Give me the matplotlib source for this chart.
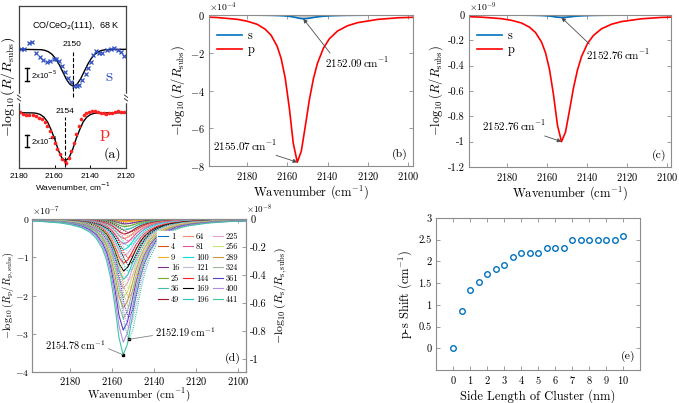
import numpy as np
import matplotlib
matplotlib.use('Agg')
import matplotlib.pyplot as plt

plt.rcParams['font.family'] = 'serif'
plt.rcParams['font.serif'] = ['cmr10']
plt.rcParams['mathtext.fontset'] = 'cm'
plt.rcParams['axes.unicode_minus'] = False
plt.rcParams['axes.formatter.use_mathtext'] = True

# ---------------- data ----------------
# (a) experimental spectra (s in 1e-5, p in 1e-4)
a_s_wn = [2179.1, 2177.2, 2174.2, 2172.6, 2170.4, 2168.5, 2166.6, 2164.3, 2162.5, 2160.6,
          2159.1, 2157.5, 2155.7, 2154.0, 2152.3, 2150.8, 2149.2, 2147.7, 2146.2, 2144.5,
          2142.6, 2141.1, 2139.8, 2138.3, 2136.8, 2135.0, 2133.2, 2130.4, 2128.5, 2126.6,
          2124.7, 2122.8, 2120.9]
a_s_val = [0.1, 0.1, 1.0, 1.1, -0.6, -1.1, -1.6, -1.9, -1.8, -1.5,
           -1.4, -1.8, -2.6, -3.4, -4.3, -5.0, -5.5, -5.6, -5.4, -4.7,
           -3.8, -2.9, -1.9, -0.9, -0.2, -0.5, -0.6, -0.1, 0.1, 0.2,
           -0.1, -0.4, -1.0]
a_s_fit_wn = [2180, 2167.5, 2165.5, 2163.5, 2161.5, 2159.5, 2157.5, 2155.5, 2153.5, 2151.5,
              2149.5, 2147.5, 2145.5, 2143.5, 2141.5, 2139.5, 2137.5, 2135.5, 2133.5, 2131.5, 2120]
a_s_fit_val = [0, -0.06, -0.16, -0.37, -0.76, -1.4, -2.3, -3.4, -4.5, -5.3,
               -5.6, -5.3, -4.5, -3.4, -2.3, -1.4, -0.76, -0.37, -0.16, -0.06, 0]
a_p_wn = [2179.5, 2177.8, 2176.0, 2174.2, 2172.4, 2170.6, 2168.8, 2167.2, 2165.6, 2164.2,
          2162.8, 2161.4, 2160.0, 2158.6, 2157.2, 2155.8, 2154.4, 2153.6, 2152.2, 2150.8,
          2149.4, 2148.0, 2146.6, 2145.2, 2143.8, 2142.2, 2140.6, 2139.0, 2137.4, 2135.8,
          2134.2, 2132.6, 2131.0, 2129.4, 2127.8, 2126.2, 2124.6, 2123.0, 2121.4]
a_p_val = [0.1, -0.2, -0.4, -0.3, -0.4, -0.5, -0.8, -1.1, -1.6, -2.2,
           -3.0, -4.0, -5.0, -6.0, -6.8, -7.6, -8.0, -8.2, -7.4, -6.3,
           -5.0, -3.5, -2.1, -1.0, -0.4, -0.1, 0.1, 0.2, 0.2, 0.1,
           0.0, -0.1, -0.2, -0.1, 0.0, 0.1, 0.2, 0.1, 0.1]
a_p_fit_wn = [2180, 2172, 2170, 2168, 2166, 2164, 2162, 2160, 2158, 2156, 2154, 2152,
              2150, 2148, 2146, 2144, 2142, 2140, 2138, 2136, 2120]
a_p_fit_val = [0, -0.04, -0.11, -0.31, -0.73, -1.5, -2.8, -4.3, -6.1, -7.4, -7.9, -7.4,
               -6.1, -4.3, -2.8, -1.5, -0.73, -0.31, -0.11, -0.04, 0]

# shared shape of the simulated band: offset from peak (cm-1) and fraction of depth
prof_off = [-70, -50, -40, -30, -25, -20, -16, -13, -10, -8, -6, -4, -2, 0,
            2, 4, 6, 8, 10, 13, 16, 20, 25, 30, 40, 50, 60, 80]
prof_frac = [0.010, 0.019, 0.030, 0.052, 0.073, 0.109, 0.161, 0.225, 0.329, 0.434, 0.576, 0.754, 0.925, 1.0,
             0.871, 0.628, 0.429, 0.297, 0.213, 0.138, 0.096, 0.063, 0.042, 0.029, 0.017, 0.011, 0.0075, 0.004]

# (b) cluster model, x1e-4
b_p_center, b_p_depth = 2155.07, 7.8
b_s_center, b_s_depth = 2152.09, 0.2
# (c) single molecule, x1e-9
c_p_center, c_p_depth = 2152.76, 1.0
c_s_center, c_s_depth = 2152.76, 0.02

# (d) number of molecules in cluster
d_sizes = [1, 4, 9, 16, 25, 36, 49, 64, 81, 100, 121, 144, 169, 196, 225, 256, 289, 324, 361, 400, 441]
d_p_center = [2152.76, 2153.43, 2153.81, 2153.95, 2154.10, 2154.18, 2154.26, 2154.41, 2154.48, 2154.48,
              2154.48, 2154.55, 2154.55, 2154.55, 2154.70, 2154.70, 2154.70, 2154.70, 2154.70, 2154.70, 2154.78]
d_s_center = [2152.76, 2152.57, 2152.47, 2152.42, 2152.38, 2152.36, 2152.34, 2152.30, 2152.28, 2152.28,
              2152.28, 2152.25, 2152.25, 2152.25, 2152.21, 2152.21, 2152.21, 2152.21, 2152.21, 2152.21, 2152.19]
d_p_depth = [0.008, 0.032, 0.072, 0.129, 0.201, 0.29, 0.394, 0.515, 0.652, 0.805, 0.974,
             1.159, 1.36, 1.578, 1.811, 2.06, 2.326, 2.608, 2.906, 3.22, 3.55]   # x1e-7
d_s_depth = [0.002, 0.008, 0.018, 0.031, 0.049, 0.070, 0.096, 0.125, 0.158, 0.195, 0.236,
             0.281, 0.330, 0.382, 0.439, 0.499, 0.564, 0.632, 0.704, 0.780, 0.860]  # x1e-8
d_colors = ['#0072BD', '#D95319', '#EDB120', '#7E2F8E', '#77AC30', '#3DBFB0', '#A2142F',
            '#F28C6A', '#E0559F', '#00E0E0', '#C8B8D8', '#FF2020', '#000000', '#20C8C8',
            '#E8A0D8', '#C8E678', '#C8963C', '#A0B4A0', '#5A3CC8', '#B48CE6', '#3CC8A0']

# (e) p-s shift vs cluster side length
e_side = [0, 0.5, 1, 1.5, 2, 2.5, 3, 3.5, 4, 4.5, 5, 5.5, 6, 6.5, 7, 7.5, 8, 8.5, 9, 9.5, 10]
e_shift = [0, 0.86, 1.34, 1.53, 1.72, 1.82, 1.92, 2.11, 2.2, 2.2, 2.2, 2.3, 2.3, 2.3,
           2.49, 2.49, 2.49, 2.49, 2.49, 2.49, 2.59]

BLUE = '#0072BD'
RED = '#FF0000'
SPINE = '#8c8c8c'

W, H = 679, 403
fig = plt.figure(figsize=(W / 100, H / 100), dpi=100)


def ax_px(l, t, r, b):
    return fig.add_axes([l / W, 1 - b / H, (r - l) / W, (b - t) / H])


def band(center, depth):
    x = center + np.array(prof_off, dtype=float)
    y = -depth * np.array(prof_frac)
    return x, y


def style_matlab(ax, right=True):
    for s in ax.spines.values():
        s.set_color(SPINE)
        s.set_linewidth(0.8)
    ax.tick_params(direction='in', length=3, width=0.6, color=SPINE, labelsize=7.5,
                   top=True, right=right, pad=3)


def fmt_labels(vals):
    return [('%g' % v) for v in vals]


# ---------------- (a) ----------------
axa = ax_px(19, 6, 126, 168)
axa.set_xlim(2180, 2120)
axa.set_ylim(0, 162)
s_base, s_scale = 118.7, 6.6
p_base, p_scale = 55.3, 6.1
sf = 'Liberation Sans'
axa.plot(a_s_fit_wn, s_base + s_scale * np.array(a_s_fit_val), color='k', lw=1.0)
axa.plot(a_s_wn, s_base + s_scale * np.array(a_s_val), 'x', color='#3050C0', ms=3.5, mew=0.9)
axa.plot(a_p_fit_wn, p_base + p_scale * np.array(a_p_fit_val), color='k', lw=1.0)
axa.plot(a_p_wn, p_base + p_scale * np.array(a_p_val), 'o', color='#FF2020', ms=2.6, mew=0)
axa.plot([2150, 2150], [71, 116], ls='--', color='k', lw=0.8)
axa.plot([2154, 2154], [1, 51], ls='--', color='k', lw=0.8)
axa.text(2150, 123, '2150', family=sf, fontsize=6, ha='center', va='center')
axa.text(2154, 56, '2154', family=sf, fontsize=6, ha='center', va='center')
axa.text(2180 - 57 / 1.783, 142, r'CO/CeO$_2$(111),  68 K', family=sf, fontsize=6.5,
         ha='center', va='center', math_fontfamily='dejavusans')
# scale bars
for yc, lab in [(93, r'2x10$^{-5}$'), (27, r'2x10$^{-4}$')]:
    half = 6.5 if yc > 50 else 6.0
    axa.plot([2175.5, 2175.5], [yc - half, yc + half], color='k', lw=1.0)
    axa.plot([2176.5, 2174.5], [yc - half, yc - half], color='k', lw=1.0)
    axa.plot([2176.5, 2174.5], [yc + half, yc + half], color='k', lw=1.0)
    axa.text(2173.5, yc, lab, family=sf, fontsize=5.5, ha='left', va='center',
             math_fontfamily='dejavusans')
axa.text(2129.5, 92, 's', color='#3050C0', fontsize=13, ha='center', va='center')
axa.text(2131.8, 35, 'p', color='#FF2020', fontsize=13, ha='center', va='center')
axa.text(2127.5, 14, '(a)', fontsize=10, ha='center', va='center')
# axis-break marks on both vertical spines
for xs in (2180, 2120):
    axa.plot([xs, xs], [67, 73], color='white', lw=2.5, clip_on=False, zorder=5)
    for dy in (-1.8, 1.8):
        axa.plot([xs - 0.9, xs + 0.9], [70 + dy - 1.2, 70 + dy + 1.2], color='#404040',
                 lw=0.7, clip_on=False, zorder=6)
axa.set_xticks([2180, 2160, 2140, 2120])
axa.set_yticks([])
for s in axa.spines.values():
    s.set_color('#404040')
    s.set_linewidth(0.9)
axa.tick_params(direction='in', length=2.5, width=0.7, labelsize=6, pad=2)
for lab in axa.get_xticklabels():
    lab.set_family(sf)
axa.set_xlabel(r'Wavenumber, cm$^{-1}$', family=sf, fontsize=6, labelpad=1,
               math_fontfamily='dejavusans')
axa.set_ylabel(r'$-\log_{10}(R/R_{\rm subs})$', fontsize=10, labelpad=0)
axa.yaxis.set_label_coords(-0.02, 0.5)

# ---------------- (b) ----------------
axb = ax_px(209, 15, 413, 166)
xb, yb = band(b_s_center, b_s_depth)
axb.fill_between(xb, yb, 0, color='#c8c8c8', lw=0)
axb.plot(xb, yb, color=BLUE, lw=1.2, label='s')
xb2, yb2 = band(b_p_center, b_p_depth)
axb.plot(xb2, yb2, color=RED, lw=1.2, label='p')
axb.set_xlim(2199, 2097.5)
axb.set_ylim(-8, 0)
axb.set_xticks([2180, 2160, 2140, 2120, 2100])
axb.set_yticks([0, -2, -4, -6, -8])
style_matlab(axb)
axb.text(0.0, 1.005, r'$\times10^{-4}$', transform=axb.transAxes, fontsize=7, va='bottom')
axb.legend(loc='upper left', bbox_to_anchor=(0.0, 0.95), frameon=False, fontsize=9,
           handlelength=2.0, handletextpad=0.5, labelspacing=0.15, borderaxespad=0.2)
axb.annotate(r'$2152.09\,\mathrm{cm}^{-1}$', xy=(b_s_center, -b_s_depth), xytext=(2141.5, -2.55),
             fontsize=8, ha='left', va='center',
             arrowprops=dict(arrowstyle='-|>', color='0.3', lw=0.6, mutation_scale=6,
                             relpos=(0.12, 1.0), shrinkA=0, shrinkB=0))
axb.annotate(r'$2155.07\,\mathrm{cm}^{-1}$', xy=(b_p_center, -b_p_depth), xytext=(2197, -6.9),
             fontsize=8, ha='left', va='center',
             arrowprops=dict(arrowstyle='-|>', color='0.3', lw=0.6, mutation_scale=6,
                             relpos=(0.85, 0.0), shrinkA=0, shrinkB=0))
axb.text(0.975, 0.04, '(b)', transform=axb.transAxes, fontsize=8.5, ha='right', va='bottom')
axb.set_xlabel(r'Wavenumber (cm$^{-1}$)', fontsize=9, labelpad=1)
axb.set_ylabel(r'$-\log_{10}(R/R_{\rm subs})$', fontsize=9, labelpad=2)

# ---------------- (c) ----------------
axc = ax_px(469, 15, 671, 167)
xc, yc = band(c_s_center, c_s_depth)
axc.fill_between(xc, yc, 0, color='#c8c8c8', lw=0)
axc.plot(xc, yc, color=BLUE, lw=1.2, label='s')
xc2, yc2 = band(c_p_center, c_p_depth)
axc.plot(xc2, yc2, color=RED, lw=1.2, label='p')
axc.set_xlim(2199, 2098)
axc.set_ylim(-1.2, 0)
axc.set_xticks([2180, 2160, 2140, 2120, 2100])
c_yt = [0, -0.2, -0.4, -0.6, -0.8, -1, -1.2]
axc.set_yticks(c_yt)
axc.set_yticklabels(fmt_labels(c_yt))
style_matlab(axc)
axc.text(0.0, 1.005, r'$\times10^{-9}$', transform=axc.transAxes, fontsize=7, va='bottom')
axc.legend(loc='upper left', bbox_to_anchor=(0.0, 0.95), frameon=False, fontsize=9,
           handlelength=2.0, handletextpad=0.5, labelspacing=0.15, borderaxespad=0.2)
axc.annotate(r'$2152.76\,\mathrm{cm}^{-1}$', xy=(c_s_center, -c_s_depth), xytext=(2140.5, -0.31),
             fontsize=8, ha='left', va='center',
             arrowprops=dict(arrowstyle='-|>', color='0.3', lw=0.6, mutation_scale=6,
                             relpos=(0.1, 1.0), shrinkA=0, shrinkB=0))
axc.annotate(r'$2152.76\,\mathrm{cm}^{-1}$', xy=(c_p_center, -c_p_depth), xytext=(2192.5, -0.875),
             fontsize=8, ha='left', va='center',
             arrowprops=dict(arrowstyle='-|>', color='0.3', lw=0.6, mutation_scale=6,
                             relpos=(0.85, 0.0), shrinkA=0, shrinkB=0))
axc.text(0.975, 0.04, '(c)', transform=axc.transAxes, fontsize=8.5, ha='right', va='bottom')
axc.set_xlabel(r'Wavenumber (cm$^{-1}$)', fontsize=9, labelpad=1)
axc.set_ylabel(r'$-\log_{10}(R/R_{\rm subs})$', fontsize=9, labelpad=2)

# ---------------- (d) ----------------
axd = ax_px(32, 219, 246, 372)
axd2 = axd.twinx()
handles = []
for i, n in enumerate(d_sizes):
    x, y = band(d_p_center[i], d_p_depth[i])
    h, = axd.plot(x, y, color=d_colors[i], lw=0.8)
    handles.append(h)
    x2, y2 = band(d_s_center[i], d_s_depth[i])
    axd2.plot(x2, y2, color=d_colors[i], lw=0.8, ls=(0, (1, 1)))
axd.set_xlim(2198.2, 2096.2)
axd.set_ylim(-4, 0)
axd2.set_ylim(-1.093, 0)
axd.set_xticks([2180, 2160, 2140, 2120, 2100])
axd.set_yticks([0, -1, -2, -3, -4])
d_yt = [0, -0.2, -0.4, -0.6, -0.8, -1]
axd2.set_yticks(d_yt)
axd2.set_yticklabels(fmt_labels(d_yt))
style_matlab(axd, right=False)
style_matlab(axd2)
axd.tick_params(right=False)
axd.tick_params(axis='y', pad=2, labelsize=7)
axd.tick_params(axis='x', pad=2)
axd2.tick_params(left=False, labelleft=False, top=False)
axd.text(0.0, 1.005, r'$\times10^{-7}$', transform=axd.transAxes, fontsize=7, va='bottom')
axd2.text(1.0, 1.02, r'$\times10^{-8}$', transform=axd2.transAxes, fontsize=6.5, va='bottom', ha='left')
axd2.legend(handles, [str(n) for n in d_sizes], ncol=3, loc='upper right',
            bbox_to_anchor=(0.99, 0.95), fontsize=6, frameon=True, facecolor='white',
            edgecolor='white', framealpha=1, handlelength=1.2, handletextpad=0.3,
            columnspacing=0.5, labelspacing=0.25, borderpad=0.2)
axd.annotate(r'$2154.78\,\mathrm{cm}^{-1}$', xy=(d_p_center[-1], -d_p_depth[-1]),
             xytext=(2191.8, -3.29), fontsize=7.5, ha='left', va='center',
             arrowprops=dict(arrowstyle='-', color='0.5', lw=0.6, relpos=(1.0, 0.3),
                             shrinkA=0, shrinkB=0))
axd.plot([d_p_center[-1]], [-d_p_depth[-1]], 's', color='k', ms=1.8)
axd2.annotate(r'$2152.19\,\mathrm{cm}^{-1}$', xy=(d_s_center[-1], -d_s_depth[-1]),
              xytext=(2139.4, -0.81), fontsize=7.5, ha='left', va='center',
              arrowprops=dict(arrowstyle='-', color='0.5', lw=0.6, relpos=(0.0, 0.3),
                              shrinkA=0, shrinkB=0))
axd2.plot([d_s_center[-1]], [-d_s_depth[-1]], 's', color='k', ms=1.8)
axd.text(0.975, 0.05, '(d)', transform=axd.transAxes, fontsize=8.5, ha='right', va='bottom')
axd.set_xlabel(r'Wavenumber (cm$^{-1}$)', fontsize=8, va='top')
axd.xaxis.set_label_coords(0.5, -0.092)
axd.set_ylabel(r'$-\log_{10}(R_{\rm p}/R_{\rm p,subs})$', fontsize=7.5)
axd.yaxis.set_label_coords(-0.076, 0.5)
axd2.set_ylabel(r'$-\log_{10}(R_{\rm s}/R_{\rm s,subs})$', fontsize=8.5, labelpad=4, rotation=90)

# ---------------- (e) ----------------
axe = ax_px(436, 218, 640, 370)
axe.plot(e_side, e_shift, 'o', mfc='none', mec=BLUE, ms=4, mew=1.0)
axe.set_xlim(-1, 11)
axe.set_ylim(-0.5, 3)
axe.set_xticks(range(0, 11))
e_yt = [0, 0.5, 1, 1.5, 2, 2.5, 3]
axe.set_yticks(e_yt)
axe.set_yticklabels(fmt_labels(e_yt))
style_matlab(axe)
axe.text(0.975, 0.05, '(e)', transform=axe.transAxes, fontsize=8.5, ha='right', va='bottom')
axe.set_xlabel('Side Length of Cluster (nm)', fontsize=9, labelpad=2)
axe.set_ylabel(r'p-s Shift (cm$^{-1}$)', fontsize=9, labelpad=3)

fig.savefig('out.png', dpi=100)
